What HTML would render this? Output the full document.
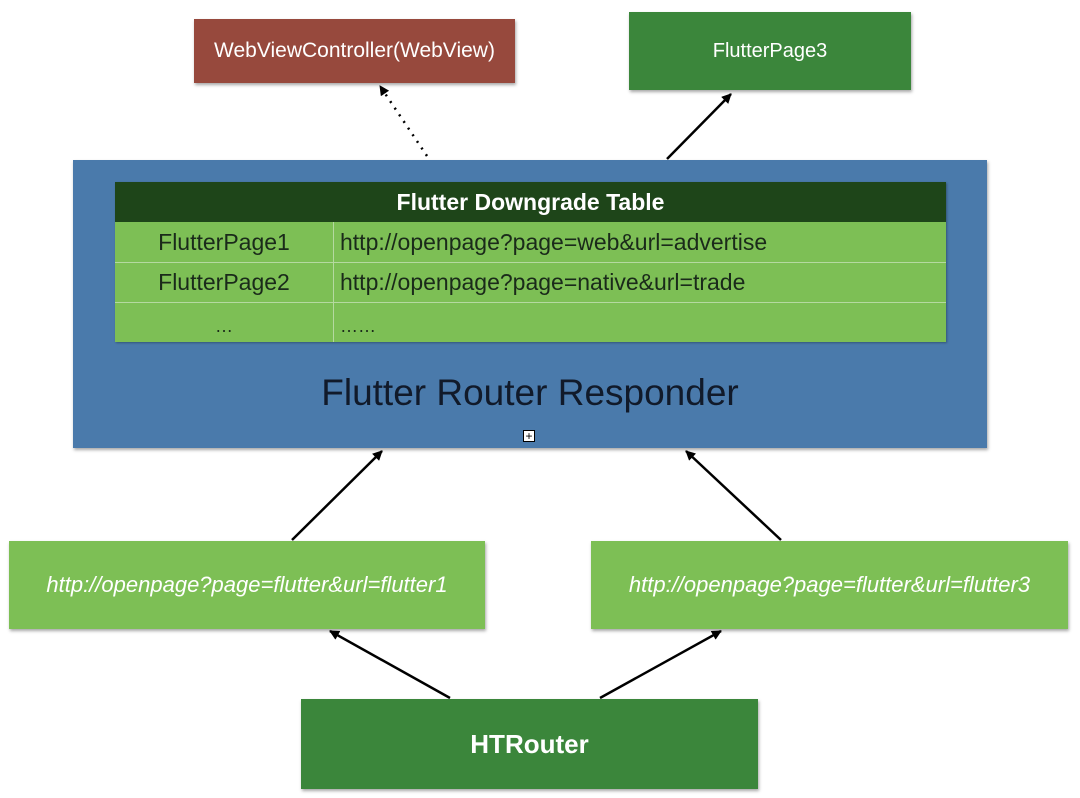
<!DOCTYPE html>
<html><head><meta charset="utf-8"><style>
body{margin:0;width:1080px;height:798px;background:#fff;position:relative;overflow:hidden;font-family:"Liberation Sans",sans-serif}
.b{position:absolute;display:flex;align-items:center;justify-content:center;box-shadow:1px 2px 3px rgba(0,0,0,.35);color:#fff}
.t{position:absolute;display:flex;align-items:center}
</style></head><body>
<div class="b" style="left:194px;top:19px;width:321px;height:64px;background:#97493d;font-size:21px">WebViewController(WebView)</div>
<div class="b" style="left:629px;top:12px;width:282px;height:78px;background:#3b863b;font-size:20px">FlutterPage3</div>
<div class="b" style="left:73px;top:160px;width:914px;height:288px;background:#4a7aab"></div>
<div style="position:absolute;left:115px;top:182px;width:831px;height:160px;background:#7dbf55;box-shadow:1px 1px 2px rgba(0,0,0,.3)"></div>
<div class="t" style="left:115px;top:182px;width:831px;height:40px;background:#1e4519;color:#fff;font-weight:bold;font-size:23px;justify-content:center">Flutter Downgrade Table</div>
<div style="position:absolute;left:115px;top:262px;width:831px;height:1px;background:#b5d9a0"></div>
<div style="position:absolute;left:115px;top:302px;width:831px;height:1px;background:#b5d9a0"></div>
<div style="position:absolute;left:333px;top:222px;width:1px;height:120px;background:#b5d9a0"></div>
<div class="t" style="left:115px;top:222px;width:218px;height:40px;justify-content:center;font-size:23px;color:#1a2a1a">FlutterPage1</div>
<div class="t" style="left:340px;top:222px;height:40px;font-size:23px;color:#1a2a1a">http://openpage?page=web&amp;url=advertise</div>
<div class="t" style="left:115px;top:262px;width:218px;height:40px;justify-content:center;font-size:23px;color:#1a2a1a">FlutterPage2</div>
<div class="t" style="left:340px;top:262px;height:40px;font-size:23px;color:#1a2a1a">http://openpage?page=native&amp;url=trade</div>
<div class="t" style="left:115px;top:310px;width:218px;height:32px;justify-content:center;font-size:18px;color:#1a2a1a">…</div>
<div class="t" style="left:340px;top:310px;height:32px;font-size:18px;color:#1a2a1a">……</div>
<div class="t" style="left:73px;top:370px;width:914px;height:46px;justify-content:center;font-size:37px;color:#111a2a">Flutter Router Responder</div>
<div style="position:absolute;left:523px;top:430px;width:12px;height:12px;background:#fff;border:1px solid #000;box-sizing:border-box;font-size:12px;line-height:10px;text-align:center;color:#000">+</div>
<div class="b" style="left:9px;top:541px;width:476px;height:88px;background:#7dbf55;font-size:22px;font-style:italic">http://openpage?page=flutter&amp;url=flutter1</div>
<div class="b" style="left:591px;top:541px;width:477px;height:88px;background:#7dbf55;font-size:22px;font-style:italic">http://openpage?page=flutter&amp;url=flutter3</div>
<div class="b" style="left:301px;top:699px;width:457px;height:90px;background:#3b863b;font-size:26px;font-weight:bold">HTRouter</div>
<svg width="1080" height="798" style="position:absolute;left:0;top:0">
<defs><marker id="a" markerWidth="10" markerHeight="10" refX="9" refY="5" orient="auto" markerUnits="userSpaceOnUse"><path d="M0,0 L10,5 L0,10 z" fill="#000"/></marker></defs>
<g stroke="#000" stroke-width="2.5" fill="none">
<line x1="427" y1="156" x2="380" y2="86" stroke-dasharray="2,6" marker-end="url(#a)"/>
<line x1="667" y1="159" x2="731" y2="94" marker-end="url(#a)"/>
<line x1="292" y1="540" x2="382" y2="451" marker-end="url(#a)"/>
<line x1="781" y1="540" x2="686" y2="451" marker-end="url(#a)"/>
<line x1="450" y1="698" x2="330" y2="631" marker-end="url(#a)"/>
<line x1="600" y1="698" x2="721" y2="631" marker-end="url(#a)"/>
</g></svg>
</body></html>
